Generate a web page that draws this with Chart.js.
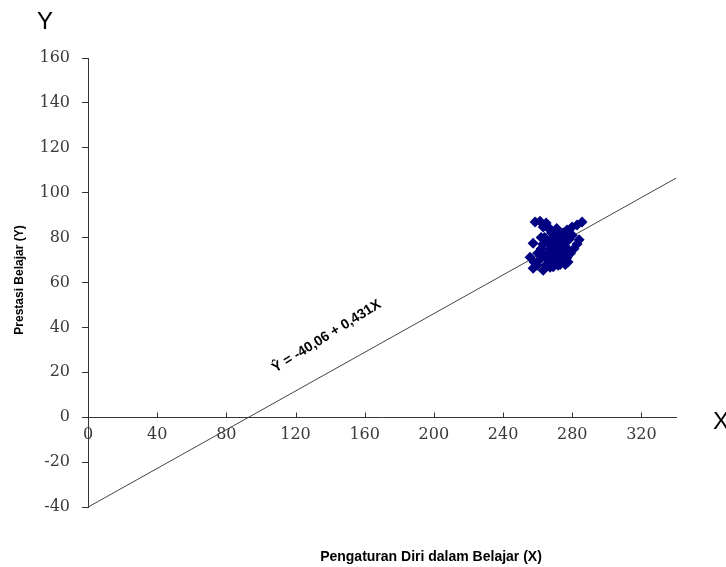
<!DOCTYPE html>
<html>
<head>
<meta charset="utf-8">
<title>Prestasi Belajar vs Pengaturan Diri</title>
<script src="https://cdn.jsdelivr.net/npm/chart.js@4/dist/chart.umd.min.js"></script>
<style>
  html, body { margin: 0; padding: 0; background: #fff; }
  canvas { display: block; }
</style>
</head>
<body>
<canvas id="reg-chart" width="726" height="567"></canvas>
<script>
// observed scores: Pengaturan Diri dalam Belajar (X) vs Prestasi Belajar (Y)
var scoreX = [258.5, 261.4, 264.9, 263.2, 267.2, 270.7, 285.7, 282.8, 279.9, 277.0,
              274.7, 265.5, 257.4, 255.6, 257.4, 259.7, 263.2, 267.2, 271.8, 277.6,
              282.8, 273.0, 264, 266, 268, 270, 272, 274, 266, 268,
              270, 262, 264, 270, 272, 274, 276, 278, 276, 278,
              280, 268, 266, 272, 274, 265, 269, 261, 263, 271,
              275, 277, 279, 262, 260, 258, 281, 269, 267, 273,
              276, 284];
var scoreY = [86.9, 87.3, 86.5, 84.7, 83.8, 82.4, 86.9, 85.6, 84.7, 83.4,
              82.0, 84.7, 77.5, 71.3, 66.4, 67.7, 65.5, 66.8, 67.7, 69.1,
              77.1, 70.9, 80, 78, 76, 74, 72, 70, 73, 71,
              69, 75, 72, 78, 80, 78, 76, 74, 80, 79,
              81, 82, 70, 76, 74, 68, 67, 70, 77, 84,
              72, 71, 73, 80, 73, 69, 75, 80, 75, 68,
              68, 79];

// regression line Y = -40,06 + 0,431X, drawn between its two ends
var regX = [0, 340];
var regY = [-40.06, 106.48];

var xTicks = [0, 40, 80, 120, 160, 200, 240, 280, 320];
var yTicks = [-40, -20, 0, 20, 40, 60, 80, 100, 120, 140, 160];

var axisColor = '#333';
var tickColor = '#3a3a3a';

var annot = {
  id: 'annot',
  afterDraw(chart) {
    var ctx = chart.ctx;
    var x = chart.scales.x, y = chart.scales.y;
    ctx.save();

    // x tick marks point up from the zero line
    ctx.strokeStyle = axisColor;
    ctx.lineWidth = 1;
    var y0 = Math.round(y.getPixelForValue(0)) + 0.5;
    xTicks.forEach(function (v) {
      if (v === 0) return;
      var px = Math.round(x.getPixelForValue(v)) + 0.5;
      ctx.beginPath();
      ctx.moveTo(px, y0);
      ctx.lineTo(px, y0 - 5);
      ctx.stroke();
    });

    ctx.fillStyle = '#000';
    ctx.font = '24px "Liberation Sans", Arial, sans-serif';
    ctx.textBaseline = 'middle';
    ctx.textAlign = 'left';
    ctx.fillText('Y', 37, 22);
    ctx.fillText('X', 713, 422);

    ctx.font = 'bold 14px "Liberation Sans", Arial, sans-serif';
    ctx.textAlign = 'center';
    ctx.fillText('Pengaturan Diri dalam Belajar (X)', 431, 557);

    ctx.save();
    ctx.translate(20, 280);
    ctx.rotate(-Math.PI / 2);
    ctx.font = 'bold 12px "Liberation Sans Narrow", "Liberation Sans", sans-serif';
    ctx.fillText('Prestasi Belajar (Y)', 0, 0);
    ctx.restore();

    // equation label along the line
    ctx.save();
    ctx.translate(x.getPixelForValue(138), y.getPixelForValue(36));
    ctx.rotate(-32 * Math.PI / 180);
    ctx.font = 'bold 14px "Liberation Sans", Arial, sans-serif';
    ctx.fillText('\u0176 = -40,06 + 0,431X', 0, 0);
    ctx.restore();

    ctx.restore();
  }
};

var ctx = document.getElementById('reg-chart');
var regChart = new Chart(ctx, {
  type: 'scatter',
  data: {
    datasets: [{
      label: 'Data',
      data: scoreX.map(function (v, i) { return { x: v, y: scoreY[i] }; }),
      pointStyle: 'rectRot',
      pointRadius: 5.5,
      pointHoverRadius: 5.5,
      backgroundColor: '#000080',
      borderColor: '#000080',
      borderWidth: 0
    }, {
      type: 'line',
      label: 'Regresi',
      data: regX.map(function (v, i) { return { x: v, y: regY[i] }; }),
      borderColor: '#444',
      borderWidth: 1,
      pointRadius: 0,
      fill: false
    }]
  },
  options: {
    responsive: false,
    animation: false,
    layout: { padding: { top: 58, right: 50, bottom: 60, left: 0 } },
    plugins: {
      legend: { display: false },
      title: { display: false },
      tooltip: { enabled: false }
    },
    scales: {
      x: {
        type: 'linear',
        position: { y: 0 },
        min: 0,
        max: 340,
        afterBuildTicks: function (scale) {
          scale.ticks = xTicks.map(function (v) { return { value: v }; });
        },
        grid: { drawOnChartArea: false, drawTicks: false },
        border: { color: axisColor, width: 1 },
        ticks: {
          padding: 8,
          maxRotation: 0,
          autoSkip: false,
          color: tickColor,
          font: { family: '"DejaVu Serif", serif', size: 16 }
        }
      },
      y: {
        type: 'linear',
        min: -40,
        max: 160,
        afterBuildTicks: function (scale) {
          scale.ticks = yTicks.map(function (v) { return { value: v }; });
        },
        afterFit: function (scale) { scale.width = 88; },
        grid: { drawOnChartArea: false, drawTicks: true, tickLength: 6, color: axisColor },
        border: { color: axisColor, width: 1 },
        ticks: {
          padding: 12,
          color: tickColor,
          font: { family: '"DejaVu Serif", serif', size: 16 }
        }
      }
    }
  },
  plugins: [annot]
});
</script>
</body>
</html>
